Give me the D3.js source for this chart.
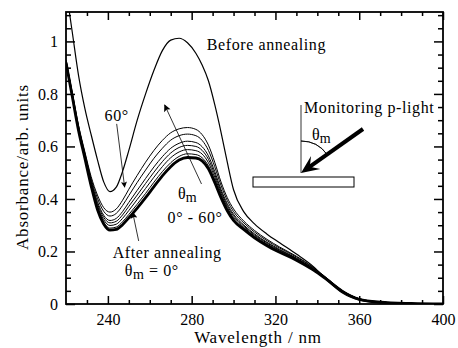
<!DOCTYPE html>
<html><head><meta charset="utf-8">
<script src="https://cdn.jsdelivr.net/npm/d3@7"></script>
<style>
body{margin:0;background:#fff}
svg{display:block}
text{font-family:"Liberation Serif","Times New Roman",serif;fill:#000}
</style>
</head><body>
<svg id="c" width="458" height="348"></svg>
<script>
// ---- data ----
const wavelengths = [220,223,226,229,232,235,238,241,244,247,250,254,258,262,266,270,274,278,282,285,288,291,294,297,300,305,310,316,322,330,338,345,352,360,370,385,400];
const beforeAnnealing = [1.20,1.035,0.87,0.745,0.645,0.55,0.465,0.428,0.445,0.505,0.585,0.70,0.80,0.89,0.965,1.005,1.012,0.995,0.955,0.91,0.85,0.76,0.655,0.54,0.435,0.35,0.305,0.266,0.233,0.19,0.143,0.088,0.042,0.015,0.004,0.001,0];
const theta0  = [0.92,0.79,0.66,0.555,0.45,0.36,0.305,0.281,0.284,0.302,0.328,0.365,0.405,0.447,0.488,0.523,0.548,0.558,0.556,0.545,0.515,0.463,0.405,0.355,0.318,0.283,0.252,0.222,0.197,0.167,0.13,0.09,0.048,0.018,0.007,0.002,0];
const theta10 = [0.921,0.792,0.662,0.558,0.454,0.367,0.312,0.289,0.293,0.313,0.341,0.38,0.421,0.464,0.504,0.538,0.562,0.572,0.569,0.557,0.526,0.472,0.412,0.361,0.323,0.287,0.255,0.225,0.199,0.169,0.131,0.091,0.048,0.018,0.007,0.002,0];
const theta20 = [0.923,0.794,0.665,0.562,0.459,0.374,0.321,0.299,0.304,0.326,0.356,0.398,0.44,0.483,0.523,0.557,0.579,0.588,0.584,0.571,0.538,0.483,0.421,0.368,0.329,0.291,0.259,0.228,0.202,0.171,0.133,0.092,0.049,0.019,0.007,0.002,0];
const theta30 = [0.924,0.796,0.668,0.565,0.464,0.382,0.33,0.309,0.315,0.339,0.372,0.415,0.459,0.502,0.542,0.575,0.596,0.604,0.6,0.585,0.551,0.494,0.429,0.375,0.336,0.296,0.263,0.232,0.205,0.173,0.134,0.092,0.049,0.019,0.007,0.002,0];
const theta40 = [0.925,0.798,0.671,0.569,0.469,0.39,0.338,0.318,0.326,0.352,0.387,0.433,0.478,0.522,0.561,0.593,0.612,0.62,0.615,0.599,0.564,0.505,0.437,0.382,0.342,0.3,0.267,0.235,0.208,0.175,0.135,0.093,0.05,0.019,0.007,0.002,0];
const theta50 = [0.928,0.802,0.676,0.575,0.477,0.403,0.353,0.335,0.345,0.375,0.413,0.463,0.51,0.555,0.593,0.624,0.641,0.647,0.641,0.623,0.585,0.523,0.452,0.394,0.352,0.308,0.274,0.241,0.213,0.179,0.138,0.095,0.05,0.02,0.008,0.002,0];
const theta60 = [0.93,0.805,0.68,0.58,0.485,0.415,0.367,0.35,0.362,0.395,0.437,0.49,0.54,0.585,0.623,0.652,0.667,0.672,0.665,0.645,0.605,0.54,0.465,0.405,0.362,0.315,0.28,0.246,0.217,0.182,0.14,0.096,0.051,0.02,0.008,0.002,0];
const xTickLabels = [240,280,320,360,400];
const yTickLabels = [0,0.2,0.4,0.6,0.8,1];

// ---- layout ----
const L=66, R=443, T=12, B=304;
const svg = d3.select("#c");
const x = d3.scaleLinear().domain([220,400]).range([L,R]);
const y = d3.scaleLinear().domain([0,1.112]).range([B,T]);

const defs = svg.append("defs");
defs.append("clipPath").attr("id","clip").append("rect")
  .attr("x",L).attr("y",T).attr("width",R-L).attr("height",B-T);
function marker(id,w,h){
  defs.append("marker").attr("id",id).attr("viewBox","0 0 10 10")
    .attr("refX",9).attr("refY",5).attr("markerWidth",w).attr("markerHeight",h)
    .attr("markerUnits","userSpaceOnUse").attr("orient","auto")
    .append("path").attr("d","M0,0 L10,5 L0,10 L2,5 z").attr("fill","#000");
}
marker("ah1",9,6);
marker("ah2",11,7);

// ---- curves ----
const line = d3.line().x((d,i)=>x(wavelengths[i])).y(d=>y(d)).curve(d3.curveMonotoneX);
const g = svg.append("g").attr("clip-path","url(#clip)");
[theta10,theta20,theta30,theta40,theta50,theta60].forEach(s=>{
  g.append("path").attr("d",line(s)).attr("fill","none").attr("stroke","#000").attr("stroke-width",1);
});
g.append("path").attr("d",line(theta0)).attr("fill","none").attr("stroke","#000").attr("stroke-width",2.8);
g.append("path").attr("d",line(beforeAnnealing)).attr("fill","none").attr("stroke","#000").attr("stroke-width",1.2);

// ---- axes ----
function styleAxis(sel){ sel.select(".domain").remove(); sel.selectAll("line").attr("stroke","#000").attr("stroke-width",1.5); sel.selectAll("text").style("font-size","16px").attr("font-family",null); }
const minorX = d3.range(230,400,10).filter(v=>v%40!==0);
const minorY = d3.range(0.05,1.11,0.05).filter(v=>Math.abs(v*5-Math.round(v*5))>1e-6);
svg.append("g").attr("transform",`translate(0,${B})`).call(d3.axisBottom(x).tickValues(xTickLabels).tickSize(-8).tickPadding(10).tickFormat(d=>d)).call(styleAxis);
svg.append("g").attr("transform",`translate(0,${B})`).call(d3.axisBottom(x).tickValues(minorX).tickSize(-4).tickFormat("")).call(styleAxis);
svg.append("g").attr("transform",`translate(0,${T})`).call(d3.axisTop(x).tickValues(xTickLabels).tickSize(-8).tickFormat("")).call(styleAxis);
svg.append("g").attr("transform",`translate(0,${T})`).call(d3.axisTop(x).tickValues(minorX).tickSize(-4).tickFormat("")).call(styleAxis);
svg.append("g").attr("transform",`translate(${L},0)`).call(d3.axisLeft(y).tickValues(yTickLabels).tickSize(-9).tickPadding(8).tickFormat(d=>String(d))).call(styleAxis);
svg.append("g").attr("transform",`translate(${L},0)`).call(d3.axisLeft(y).tickValues(minorY).tickSize(-5).tickFormat("")).call(styleAxis);
svg.append("g").attr("transform",`translate(${R},0)`).call(d3.axisRight(y).tickValues(yTickLabels).tickSize(-9).tickFormat("")).call(styleAxis);
svg.append("g").attr("transform",`translate(${R},0)`).call(d3.axisRight(y).tickValues(minorY).tickSize(-5).tickFormat("")).call(styleAxis);
svg.append("rect").attr("x",L).attr("y",T).attr("width",R-L).attr("height",B-T)
  .attr("fill","none").attr("stroke","#000").attr("stroke-width",1.8);

// axis titles
svg.append("text").attr("x",258).attr("y",343).attr("text-anchor","middle")
  .style("font-size","17px").style("letter-spacing","0.8px").text("Wavelength / nm");
svg.append("text").attr("transform","translate(28,167) rotate(-90)").attr("text-anchor","middle")
  .style("font-size","17px").style("letter-spacing","0.8px").text("Absorbance/arb. units");

// ---- annotations ----
const fs = "16px";
function txt(lx,ly,str){ return svg.append("text").attr("x",x(lx)).attr("y",y(ly)).style("font-size",fs).style("letter-spacing","0.6px").text(str); }
txt(287.2,0.967,"Before annealing");
txt(238.4,0.697,"60°");
svg.append("line").attr("x1",x(244.2)).attr("y1",y(0.686)).attr("x2",x(248)).attr("y2",y(0.445))
  .attr("stroke","#000").attr("stroke-width",0.8).attr("marker-end","url(#ah1)");
txt(242.3,0.175,"After annealing");
const t0 = svg.append("text").attr("x",x(248)).attr("y",y(0.107)).style("font-size",fs).style("letter-spacing","0.6px");
t0.append("tspan").text("θ");
t0.append("tspan").attr("dy",3).style("font-size","14px").text("m");
t0.append("tspan").attr("dy",-3).text(" = 0°");
svg.append("line").attr("x1",x(254.7)).attr("y1",y(0.24)).attr("x2",x(251.8)).attr("y2",y(0.35))
  .attr("stroke","#000").attr("stroke-width",0.8).attr("marker-end","url(#ah2)");
svg.append("line").attr("x1",x(284.7)).attr("y1",y(0.457)).attr("x2",x(267.1)).attr("y2",y(0.758))
  .attr("stroke","#000").attr("stroke-width",0.8).attr("marker-end","url(#ah2)");
const t1 = svg.append("text").attr("x",x(273.5)).attr("y",y(0.40)).style("font-size",fs);
t1.append("tspan").text("θ");
t1.append("tspan").attr("dy",3).style("font-size","14px").text("m");
txt(268.5,0.307,"0° - 60°");

// ---- inset: geometry of monitoring light ----
const inset = svg.append("g");
const tip=[301,173], start=[363,129];
inset.append("line").attr("x1",tip[0]).attr("y1",105).attr("x2",tip[0]).attr("y2",tip[1]).attr("stroke","#000").attr("stroke-width",0.8);
inset.append("rect").attr("x",253).attr("y",177).attr("width",101).attr("height",10).attr("fill","#fff").attr("stroke","#000").attr("stroke-width",1);
const ang = Math.atan2(start[0]-tip[0], tip[1]-start[1]);
inset.append("path").attr("d",d3.arc().innerRadius(32).outerRadius(32).startAngle(0).endAngle(ang)())
  .attr("transform",`translate(${tip[0]},${tip[1]})`).attr("fill","none").attr("stroke","#000").attr("stroke-width",0.8);
const dx=tip[0]-start[0], dy=tip[1]-start[1], len=Math.hypot(dx,dy), ux=dx/len, uy=dy/len, px=-uy, py=ux;
const hl=18, hw=8;
inset.append("line").attr("x1",start[0]).attr("y1",start[1]).attr("x2",tip[0]-ux*10).attr("y2",tip[1]-uy*10).attr("stroke","#000").attr("stroke-width",4);
inset.append("path").attr("d",`M${tip[0]},${tip[1]} L${tip[0]-ux*hl+px*hw},${tip[1]-uy*hl+py*hw} L${tip[0]-ux*hl*0.6},${tip[1]-uy*hl*0.6} L${tip[0]-ux*hl-px*hw},${tip[1]-uy*hl-py*hw} Z`).attr("fill","#000");
inset.append("text").attr("x",304).attr("y",113).style("font-size",fs).style("letter-spacing","0.6px").text("Monitoring p-light");
const t2 = inset.append("text").attr("x",312).attr("y",140).style("font-size",fs);
t2.append("tspan").text("θ");
t2.append("tspan").attr("dy",3).style("font-size","14px").text("m");
</script>
</body></html>
